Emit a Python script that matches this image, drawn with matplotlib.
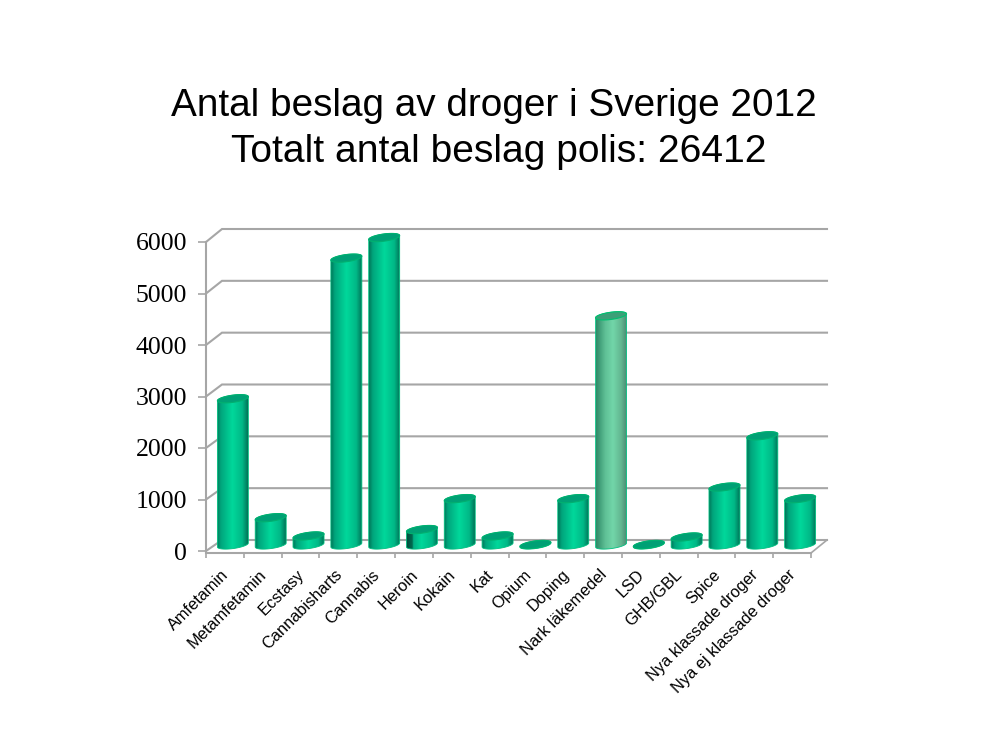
import numpy as np
import matplotlib
matplotlib.use("Agg")
import matplotlib.pyplot as plt
from matplotlib.colors import LinearSegmentedColormap
from matplotlib.patches import Polygon
from matplotlib.transforms import ScaledTranslation

title_lines = ["Antal beslag av droger i Sverige 2012", "Totalt antal beslag polis: 26412"]
categories = ["Amfetamin", "Metamfetamin", "Ecstasy", "Cannabisharts", "Cannabis", "Heroin",
              "Kokain", "Kat", "Opium", "Doping", "Nark läkemedel", "LSD", "GHB/GBL",
              "Spice", "Nya klassade droger", "Nya ej klassade droger"]
values = [2840, 530, 175, 5570, 5970, 300, 900, 175, 10, 900, 4450, 10, 155, 1125, 2120, 900]
y_ticks = [0, 1000, 2000, 3000, 4000, 5000, 6000]

W, H = 986, 734
fig = plt.figure(figsize=(W / 100, H / 100), dpi=100, facecolor="white")
L, R, T, B = 206, 811, 242, 551
ax = fig.add_axes([L / W, 1 - B / H, (R - L) / W, (B - T) / H])
n = len(categories)
GRAY = "#A6A6A6"
PX_Y = 6000 / (B - T)
DX = 16 / ((R - L) / n)


def depth_rise(v):
    return (11 + 2 * v / 6000) * PX_Y


# Back wall and depth lines
for v in y_ticks:
    back = v + depth_rise(v)
    ax.plot([0, DX, n + DX], [v, back, back], color=GRAY, lw=1.5, clip_on=False, zorder=1,
            solid_joinstyle="miter")
floor = -2 * PX_Y
ax.plot([n, n + DX], [floor, depth_rise(0)], color=GRAY, lw=1.2, clip_on=False, zorder=1)

# Cylinders
body = LinearSegmentedColormap.from_list("body", [(0, "#00785A"), (0.12, "#00A57C"), (0.5, "#00D89B"), (0.82, "#00B887"), (1, "#007558")])
light = LinearSegmentedColormap.from_list("light", [(0, "#2F8A68"), (0.3, "#5FC096"), (0.55, "#72D6A9"), (0.82, "#62B690"), (1, "#4A8A72")])
dark = LinearSegmentedColormap.from_list("dark", [(0, "#004A3A"), (0.2, "#006A50"), (0.24, "#00B084"), (0.5, "#00D89B"), (0.85, "#00B887"), (1, "#00805F")])
grad = np.linspace(0, 1, 128).reshape(1, -1)
HW = 15.5 / ((R - L) / n)
BASE, EB, TILT = 6 * PX_Y, 3.6 * PX_Y, 2.0 * PX_Y


def arc(cx, cy, t):
    return np.column_stack([cx + HW * np.cos(t), cy + EB * np.sin(t) + TILT * np.cos(t)])


for i, (name, v) in enumerate(zip(categories, values)):
    cx = i + 0.5 + DX / 2
    top = BASE + v
    outline = np.vstack([arc(cx, BASE, np.linspace(np.pi, 2 * np.pi, 40)),
                         arc(cx, top, np.linspace(0, np.pi, 40))])
    cmap = light if name == "Nark läkemedel" else dark if name == "Heroin" else body
    img = ax.imshow(grad, cmap=cmap, aspect="auto", zorder=3,
                    extent=[cx - HW, cx + HW, BASE - 2 * EB, top + 2 * EB])
    clip = Polygon(outline, transform=ax.transData, facecolor="none", edgecolor="none", clip_on=False)
    ax.add_patch(clip)
    img.set_clip_path(clip)
    img.set_clip_box(fig.bbox)
    ax.add_patch(Polygon(outline, closed=True, fill=False, edgecolor="#00C080", lw=0.6, zorder=4, clip_on=False))
    face = "#3C9F78" if name == "Nark läkemedel" else "#00A075"
    edge = "#00C070" if name == "Nark läkemedel" else "#00B070"
    ax.add_patch(Polygon(arc(cx, top, np.linspace(0, 2 * np.pi, 80)), closed=True, facecolor=face,
                         edgecolor=edge, lw=0.8, zorder=5, clip_on=False))

ax.set_xlim(0, n)
ax.set_ylim(0, 6000)
ax.patch.set_alpha(0)
for s in ["top", "right"]:
    ax.spines[s].set_visible(False)
for s in ["left", "bottom"]:
    ax.spines[s].set_color(GRAY)
    ax.spines[s].set_linewidth(1.5)
    ax.spines[s].set_zorder(2)
ax.spines["bottom"].set_position(("outward", 1.5))

ax.set_yticks(y_ticks)
ax.set_yticklabels([str(v) for v in y_ticks], family="Liberation Serif", fontsize=18.5, color="black")
ax.tick_params(axis="y", length=5.5, width=1.2, color=GRAY, pad=8)

ax.set_xticks(np.arange(n + 1), minor=True)
ax.tick_params(axis="x", which="minor", length=3.5, width=1.2, color=GRAY)
ax.set_xticks(np.arange(n) + 0.5)
ax.tick_params(axis="x", which="major", length=0, pad=10)
ax.set_xticklabels(categories, family="Liberation Sans", fontsize=11.8, rotation=45, ha="right",
                   va="top", rotation_mode="anchor", color="black")
shift = ScaledTranslation(-4 / 100, 0, fig.dpi_scale_trans)
for lab in ax.get_xticklabels():
    lab.set_transform(lab.get_transform() + shift)

fig.text(493.5 / W, 1 - 116.5 / H, title_lines[0], family="Liberation Sans", fontsize=27.9, ha="center", va="baseline", color="black")
fig.text(499 / W, 1 - 161.5 / H, title_lines[1], family="Liberation Sans", fontsize=28.1, ha="center", va="baseline", color="black")

fig.savefig("out.png", dpi=100, facecolor="white")
